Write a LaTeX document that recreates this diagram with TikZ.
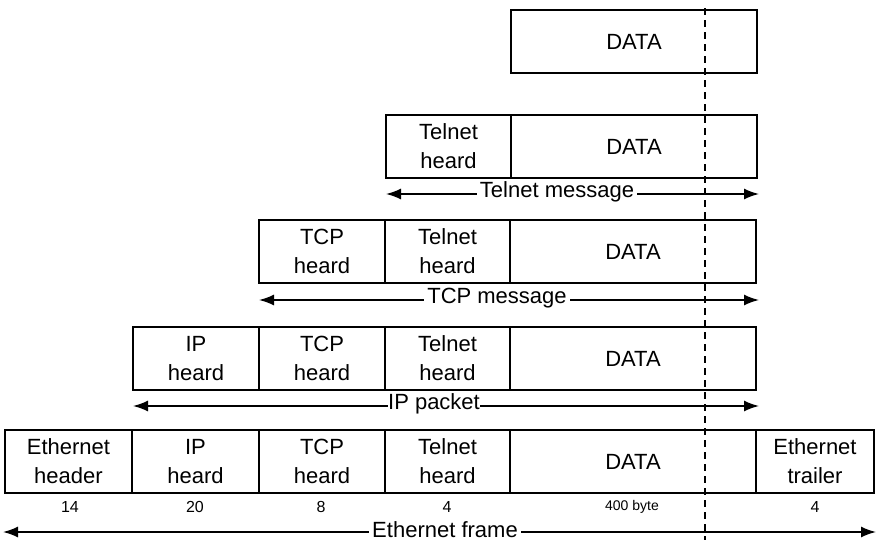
\documentclass[tikz,border=0pt]{standalone}
\usepackage{fontspec}
\setmainfont{Liberation Sans}
\usetikzlibrary{arrows.meta}

\begin{document}
\begin{tikzpicture}[x=1pt,y=-1pt,
  cell/.style={draw, line width=1.2pt, anchor=north west, minimum height=63pt,
    inner sep=0pt, outer sep=0pt, align=center, font=\fontsize{22}{29}\selectfont},
  size/.style={inner sep=0pt, font=\fontsize{16}{18}\selectfont},
  span/.style={line width=1.6pt, {Latex[length=15pt,width=11pt]}-{Latex[length=15pt,width=11pt]}},
  spanlabel/.style={fill=white, inner xsep=3pt, inner ysep=1pt, font=\fontsize{22}{24}\selectfont},
  cutline/.style={line width=1.3pt, dash pattern=on 7pt off 5pt}]
\useasboundingbox (0,0) rectangle (876,549);

% application data
\node[cell, minimum width=246pt] (d0) at (511,10) {DATA};

% Telnet message
\node[cell, minimum width=125pt] (t1) at (386,115) {Telnet\\heard};
\node[cell, minimum width=246pt] (d1) at (t1.north east) {DATA};
\coordinate (tm-l) at (386,194);
\coordinate (tm-r) at (759,194);
\draw[span] (tm-l) -- (tm-r);
\node[spanlabel] (tm) at (557,192) {Telnet message};

% TCP message
\node[cell, minimum width=126pt] (c2) at (259,220) {TCP\\heard};
\node[cell, minimum width=125pt] (t2) at (c2.north east) {Telnet\\heard};
\node[cell, minimum width=246pt] (d2) at (t2.north east) {DATA};
\coordinate (cm-l) at (259,300);
\coordinate (cm-r) at (759,300);
\draw[span] (cm-l) -- (cm-r);
\node[spanlabel] (cm) at (497,298) {TCP message};

% IP packet
\node[cell, minimum width=126pt] (i3) at (133,327) {IP\\heard};
\node[cell, minimum width=126pt] (c3) at (i3.north east) {TCP\\heard};
\node[cell, minimum width=125pt] (t3) at (c3.north east) {Telnet\\heard};
\node[cell, minimum width=246pt] (d3) at (t3.north east) {DATA};
\coordinate (ip-l) at (133,406);
\coordinate (ip-r) at (759,406);
\draw[span] (ip-l) -- (ip-r);
\node[spanlabel, inner xsep=0.5pt] (ip) at (434,404) {IP packet};

% Ethernet frame
\node[cell, minimum width=127pt] (e4) at (5,430) {Ethernet\\header};
\node[cell, minimum width=127pt] (i4) at (e4.north east) {IP\\heard};
\node[cell, minimum width=126pt] (c4) at (i4.north east) {TCP\\heard};
\node[cell, minimum width=125pt] (t4) at (c4.north east) {Telnet\\heard};
\node[cell, minimum width=246pt] (d4) at (t4.north east) {DATA};
\node[cell, minimum width=118pt] (r4) at (d4.north east) {Ethernet\\trailer};

% field sizes in bytes
\node[size] (n1) at (70,507) {14};
\node[size] (n2) at (195,507) {20};
\node[size] (n3) at (321,507) {8};
\node[size] (n4) at (447,507) {4};
\node[size, font=\fontsize{14}{16}\selectfont] (n5) at (632,507) {400 byte};
\node[size] (n6) at (815,507) {4};

\coordinate (ef-l) at (3,532);
\coordinate (ef-r) at (876,532);
\draw[span] (ef-l) -- (ef-r);
\node[spanlabel] (ef) at (445,530) {Ethernet frame};

% cut through the data field
\coordinate (cut-top) at (705,8);
\coordinate (cut-bot) at (705,540);
\draw[cutline] (cut-top) -- (cut-bot);
\end{tikzpicture}
\end{document}
